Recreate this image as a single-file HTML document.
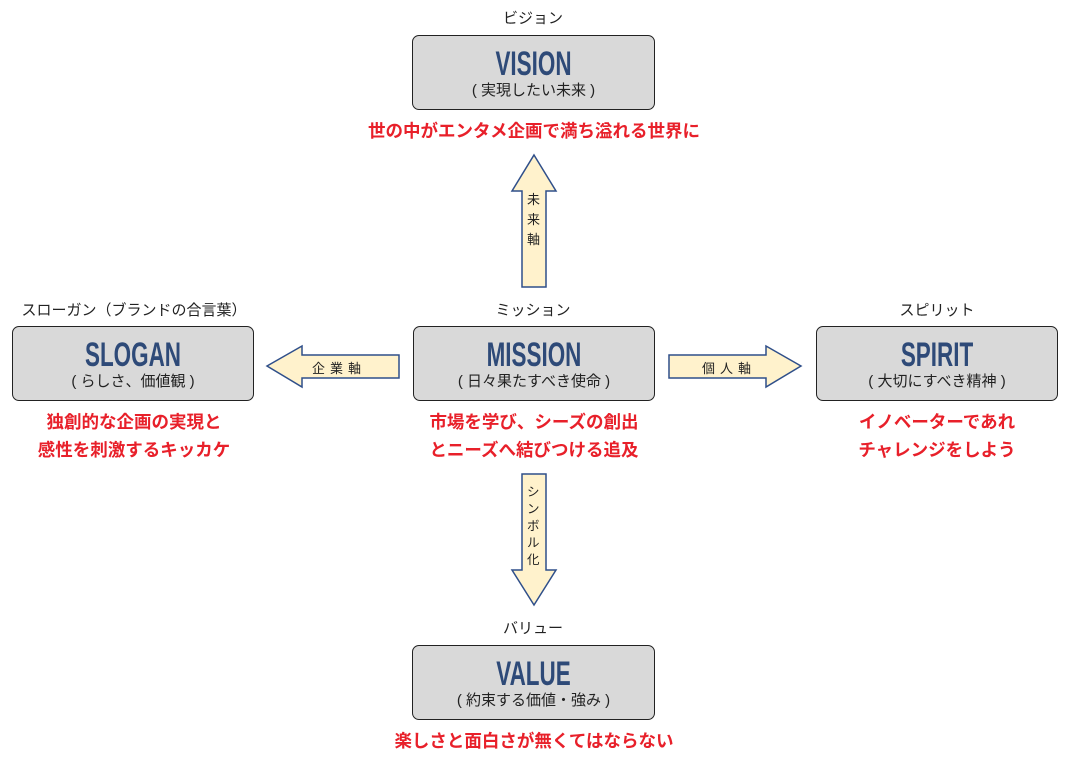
<!DOCTYPE html>
<html><head><meta charset="utf-8"><style>
body{margin:0;width:1070px;height:767px;background:#fff;position:relative;overflow:hidden;font-family:"Liberation Sans","Noto Sans CJK JP",sans-serif}
.box{position:absolute;width:240px;height:73px;background:#d9d9d9;border:1.3px solid #222;border-radius:7px;box-sizing:border-box}
.t{position:absolute;left:0;width:100%;top:11px;text-align:center;font-family:"Liberation Sans Narrow","Liberation Sans",sans-serif;font-weight:bold;font-size:34px;color:#2e4a78;transform:scaleX(0.66);line-height:34px}
.s{position:absolute;left:0;width:100%;top:46px;text-align:center;font-size:15px;color:#222;line-height:18px;white-space:nowrap}
.lab{position:absolute;width:240px;text-align:center;font-size:15px;color:#222;line-height:18px;white-space:nowrap}
.red{position:absolute;width:400px;text-align:center;font-size:17.5px;font-weight:bold;color:#e8202a;line-height:28px;white-space:nowrap}
.al{position:absolute;font-size:13px;color:#222}
</style></head><body>
<div class="lab" style="left:413px;top:10px">ビジョン</div>
<div class="box" style="left:412px;top:35px;width:243px;height:75px"><div class="t">VISION</div><div class="s">( 実現したい未来 )</div></div>
<div class="red" style="left:334px;top:117px">世の中がエンタメ企画で満ち溢れる世界に</div>

<div class="lab" style="left:5px;top:302px;width:258px">スローガン（ブランドの合言葉）</div>
<div class="box" style="left:12px;top:326px;width:242px;height:75px"><div class="t">SLOGAN</div><div class="s">( らしさ、価値観 )</div></div>
<div class="red" style="left:-66px;top:408px">独創的な企画の実現と<br>感性を刺激するキッカケ</div>

<div class="lab" style="left:413px;top:302px">ミッション</div>
<div class="box" style="left:413px;top:326px;width:242px;height:75px"><div class="t">MISSION</div><div class="s">( 日々果たすべき使命 )</div></div>
<div class="red" style="left:334px;top:408px">市場を学び、シーズの創出<br>とニーズへ結びつける追及</div>

<div class="lab" style="left:817px;top:302px">スピリット</div>
<div class="box" style="left:816px;top:326px;width:242px;height:75px"><div class="t">SPIRIT</div><div class="s">( 大切にすべき精神 )</div></div>
<div class="red" style="left:737px;top:408px">イノベーターであれ<br>チャレンジをしよう</div>

<div class="lab" style="left:413px;top:620px">バリュー</div>
<div class="box" style="left:412px;top:645px;width:243px;height:75px"><div class="t">VALUE</div><div class="s">( 約束する価値・強み )</div></div>
<div class="red" style="left:334px;top:727px">楽しさと面白さが無くてはならない</div>

<svg width="1070" height="767" style="position:absolute;left:0;top:0" fill="#fff2cc" stroke="#2f4f8a" stroke-width="1.5">
<polygon points="534,155 556,191 546,191 546,287 522,287 522,191 512,191"/>
<polygon points="534,605 556,570 546,570 546,474 522,474 522,570 512,570"/>
<polygon points="267,366 302,346 302,355 399,355 399,378 302,378 302,387"/>
<polygon points="801,366 766,346 766,355 669,355 669,378 766,378 766,387"/>
</svg>
<div class="al" style="left:527px;top:190px;width:14px;line-height:20px">未<br>来<br>軸</div>
<div class="al" style="left:527px;top:484px;width:14px;line-height:17px;font-size:12.5px">シ<br>ン<br>ボ<br>ル<br>化</div>
<div class="al" style="left:312px;top:358px;letter-spacing:5px">企業軸</div>
<div class="al" style="left:702px;top:358px;letter-spacing:5px">個人軸</div>
</body></html>
